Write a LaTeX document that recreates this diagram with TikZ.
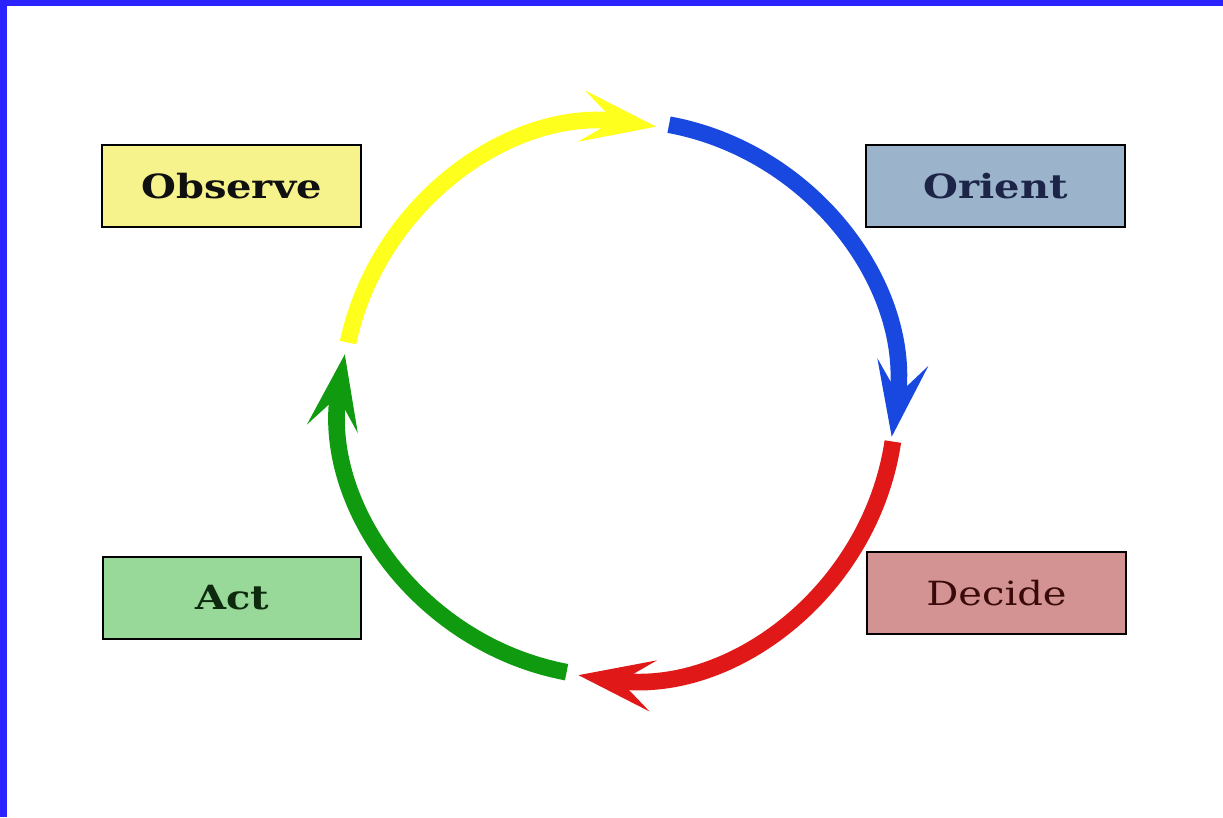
\documentclass[tikz,border=0pt]{standalone}
\usepackage{fontspec}
\setmainfont{DejaVu Serif}
\newfontfamily\lab[FakeStretch=1.2]{DejaVu Serif}
\usetikzlibrary{arrows.meta,calc}
\definecolor{frameblue}{HTML}{2A22FF}
\definecolor{obsfill}{HTML}{F6F28C}
\definecolor{orifill}{HTML}{9BB3CB}
\definecolor{decfill}{HTML}{D39393}
\definecolor{actfill}{HTML}{98D898}
\definecolor{obstxt}{HTML}{101010}
\definecolor{oritxt}{HTML}{1C2448}
\definecolor{dectxt}{HTML}{3A0A0A}
\definecolor{acttxt}{HTML}{0E2A0E}
\definecolor{yelarc}{HTML}{FFFF1E}
\definecolor{bluarc}{HTML}{1848E0}
\definecolor{redarc}{HTML}{E01818}
\definecolor{grnarc}{HTML}{109A10}
\tikzset{
  labelbox/.style={draw=black, line width=1.5pt, inner sep=0pt, minimum width=194pt, minimum height=61.5pt,
    font=\lab\fontsize{25}{29}\selectfont},
  boldlabel/.style={font=\lab\bfseries\fontsize{25}{29}\selectfont},
  looparc/.style={line width=12.5pt, -{Stealth[length=56pt, width=38pt, inset=24pt]}}
}
\begin{document}
\begin{tikzpicture}[x=0.75pt, y=0.75pt]
\useasboundingbox (0,0) rectangle (1223,817);
\fill[white] (0,0) rectangle (1223,817);
\fill[frameblue] (0,0) rectangle (7,817);
\fill[frameblue] (0,811) rectangle (1223,817);

\node[labelbox, boldlabel, fill=obsfill, text=obstxt] (observe) at (231.5,631) {Observe};
\node[labelbox, boldlabel, fill=orifill, text=oritxt] (orient) at (995.5,631) {Orient};
\node[labelbox, fill=decfill, text=dectxt] (decide) at (996.5,223.5) {Decide};
\node[labelbox, boldlabel, fill=actfill, text=acttxt] (act) at (232,219) {Act};

\coordinate (c) at (618,417);
\coordinate (ys) at ($(c)+(168:276)$);
\coordinate (bs) at ($(c)+(79.5:280)$);
\coordinate (rs) at ($(c)+(-8.6:278)$);
\coordinate (gs) at ($(c)+(-100.7:277)$);

\draw[looparc, grnarc] (gs) arc[start angle=-100.7, end angle=-189.5, radius=277];
\draw[looparc, yelarc] (ys) arc[start angle=168, end angle=82, radius=276];
\draw[looparc, bluarc] (bs) arc[start angle=79.5, end angle=-8.5, radius=276];
\draw[looparc, redarc] (rs) arc[start angle=-8.6, end angle=-98.2, radius=278];
\end{tikzpicture}
\end{document}
